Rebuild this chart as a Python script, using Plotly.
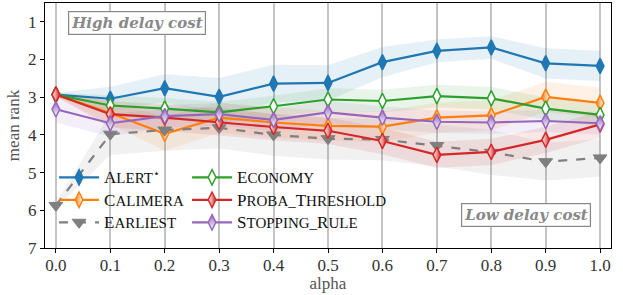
import plotly.graph_objects as go

alpha = [0.0, 0.1, 0.2, 0.3, 0.4, 0.5, 0.6, 0.7, 0.8, 0.9, 1.0]

alert = [2.93, 3.04, 2.76, 2.99, 2.64, 2.62, 2.07, 1.77, 1.68, 2.10, 2.17]
calimera = [2.93, 3.42, 3.97, 3.54, 3.67, 3.76, 3.78, 3.54, 3.48, 2.99, 3.15]
earliest = [5.87, 3.98, 3.87, 3.81, 4.00, 4.10, 4.12, 4.28, 4.46, 4.71, 4.61]
economy = [2.93, 3.22, 3.30, 3.40, 3.24, 3.06, 3.10, 2.97, 3.03, 3.30, 3.47]
proba = [2.93, 3.45, 3.54, 3.66, 3.79, 3.89, 4.16, 4.53, 4.45, 4.13, 3.72]
stopping = [3.32, 3.69, 3.50, 3.45, 3.60, 3.40, 3.54, 3.65, 3.67, 3.63, 3.69]

alert_sd = [0.05, 0.32, 0.37, 0.50, 0.50, 0.47, 0.40, 0.30, 0.30, 0.40, 0.40]
calimera_sd = [0.05, 0.30, 0.45, 0.40, 0.40, 0.40, 0.40, 0.40, 0.40, 0.40, 0.40]
earliest_sd = [0.08, 0.55, 0.55, 0.55, 0.55, 0.55, 0.55, 0.55, 0.60, 0.50, 0.50]
economy_sd = [0.05, 0.28, 0.28, 0.28, 0.28, 0.30, 0.30, 0.30, 0.30, 0.30, 0.30]
proba_sd = [0.05, 0.35, 0.35, 0.35, 0.35, 0.35, 0.35, 0.35, 0.35, 0.35, 0.35]
stopping_sd = [0.35, 0.35, 0.30, 0.30, 0.30, 0.30, 0.30, 0.30, 0.30, 0.30, 0.30]

y_ticks = [1, 2, 3, 4, 5, 6, 7]
x_ticks = alpha
x_ticklabels = ["0.0", "0.1", "0.2", "0.3", "0.4", "0.5", "0.6", "0.7", "0.8", "0.9", "1.0"]

BIG = 17
SMALL = 15


def small_caps(word):
    # emulate LaTeX small caps: capitals large, other letters as smaller capitals
    out = []
    for ch in word:
        if ch.isupper():
            out.append('<span style="font-size:%dpx">%s</span>' % (BIG, ch))
        else:
            out.append(ch.upper())
    return "".join(out)


names = [small_caps("Alert") + "<sup>⋆</sup>", small_caps("Calimera"), small_caps("Earliest"),
         small_caps("Economy"), small_caps("Proba_Threshold"), small_caps("Stopping_Rule")]


def rgba(hexc, a):
    h = hexc.lstrip("#")
    return "rgba(%d,%d,%d,%s)" % (int(h[0:2], 16), int(h[2:4], 16), int(h[4:6], 16), a)


series = [
    # name, values, sd, color, marker dict, dash, legend id
    (names[0], alert, alert_sd, "#1f77b4",
     dict(symbol="diamond-tall", size=11, color="#1f77b4", line=dict(color="#1f77b4", width=1.5)), "solid", "legend"),
    (names[1], calimera, calimera_sd, "#ff7f0e",
     dict(symbol="diamond-tall", size=11, color="#ff7f0e", gradient=dict(type="horizontal", color="white"),
          line=dict(color="#ff7f0e", width=1.5)), "solid", "legend"),
    (names[2], earliest, earliest_sd, "#7f7f7f",
     dict(symbol="triangle-down", size=12, color="#7f7f7f", line=dict(color="#7f7f7f", width=1)), "dash", "legend"),
    (names[3], economy, economy_sd, "#2ca02c",
     dict(symbol="diamond-tall", size=11, color="white", line=dict(color="#2ca02c", width=1.5)), "solid", "legend2"),
    (names[4], proba, proba_sd, "#d62728",
     dict(symbol="diamond-tall", size=11, color="white", gradient=dict(type="horizontal", color="#d62728"),
          line=dict(color="#d62728", width=1.5)), "solid", "legend2"),
    (names[5], stopping, stopping_sd, "#9467bd",
     dict(symbol="diamond-tall", size=11, color="#9467bd", gradient=dict(type="vertical", color="white"),
          line=dict(color="#9467bd", width=1.5)), "solid", "legend2"),
]

fig = go.Figure()

for name, vals, sd, col, mk, dash, lg in series:
    upper = [v - s for v, s in zip(vals, sd)]
    lower = [v + s for v, s in zip(vals, sd)]
    fig.add_trace(go.Scatter(
        x=alpha + alpha[::-1], y=upper + lower[::-1], fill="toself",
        fillcolor=rgba(col, 0.11), line=dict(width=0), showlegend=False, hoverinfo="skip"))

for name, vals, sd, col, mk, dash, lg in series:
    fig.add_trace(go.Scatter(
        x=alpha, y=vals, mode="lines+markers", name=name, legend=lg,
        line=dict(color=col, width=2.2, dash=dash), marker=mk))

fig.add_vline(x=0.5, line=dict(color="#777777", width=2, dash="dot"), layer="below")

font_family = "Liberation Serif"
legend_font = dict(family=font_family, size=SMALL, color="#111111")

fig.update_layout(
    width=623, height=295,
    margin=dict(l=45, r=12, t=3, b=47),
    paper_bgcolor="white", plot_bgcolor="white",
    font=dict(family=font_family, size=17, color="#333333"),
    showlegend=True,
    legend=dict(
        orientation="v", x=0.016, y=0.355, xanchor="left", yanchor="top",
        bgcolor="rgba(0,0,0,0)", traceorder="normal", font=legend_font, itemwidth=40,
    ),
    legend2=dict(
        orientation="v", x=0.251, y=0.355, xanchor="left", yanchor="top",
        bgcolor="rgba(0,0,0,0)", traceorder="normal", font=legend_font, itemwidth=40,
    ),
    xaxis=dict(
        range=[-0.02, 1.02], tickvals=x_ticks, ticktext=x_ticklabels, automargin=False,
        showgrid=True, gridcolor="#c4c4c4", gridwidth=1.5, ticklabelstandoff=-3,
        showline=True, linecolor="black", linewidth=1.2, mirror=True,
        ticks="outside", ticklen=4, tickcolor="black", zeroline=False,
        title=dict(text="alpha", standoff=0, font=dict(size=17, color="#555555")),
    ),
    yaxis=dict(
        range=[7, 0.5], tickvals=y_ticks, showgrid=False, automargin=False,
        showline=True, linecolor="black", linewidth=1.2, mirror=True,
        ticks="outside", ticklen=4, tickcolor="black", zeroline=False,
        title=dict(text="mean rank", standoff=4, font=dict(size=17, color="#555555")),
    ),
    annotations=[
        dict(text="<b><i>High delay cost</i></b>", xref="paper", yref="paper", x=0.1625, y=0.918,
             xanchor="center", yanchor="middle",
             showarrow=False, font=dict(family="DejaVu Serif", size=15, color="#888888"),
             bordercolor="#888888", borderwidth=1.2, borderpad=2, bgcolor="white"),
        dict(text="<b><i>Low delay cost</i></b>", xref="paper", yref="paper", x=0.85, y=0.135,
             xanchor="center", yanchor="middle",
             showarrow=False, font=dict(family="DejaVu Serif", size=15, color="#888888"),
             bordercolor="#888888", borderwidth=1.2, borderpad=2, bgcolor="white"),
    ],
)

fig.write_html("out.html", config={"displayModeBar": False},
               post_script="document.body.style.margin='0px';")
